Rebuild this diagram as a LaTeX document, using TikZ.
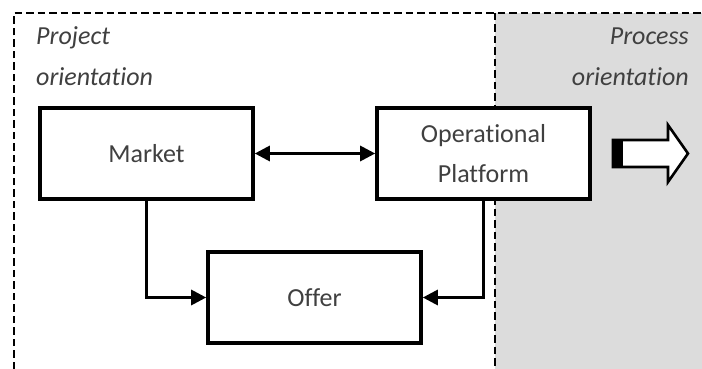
\documentclass[tikz,border=0pt]{standalone}
\usepackage{fontspec}
\setmainfont{Carlito}[Ligatures={NoCommon}]
\usetikzlibrary{arrows.meta}
\definecolor{txt}{HTML}{404040}
\definecolor{graybg}{HTML}{DCDCDC}
\tikzset{
  blk/.style={draw=black, line width=3.6pt, fill=white, minimum width=213pt, minimum height=91pt, inner sep=0pt, text=txt, font=\fontsize{26pt}{40pt}\selectfont, align=center},
  conn/.style={line width=3pt, -{Triangle[length=15pt,width=15pt]}},
  dashline/.style={line width=1.8pt, dash pattern=on 7.5pt off 4pt},
  lbl/.style={inner sep=0pt, text=txt, font=\fontsize{26pt}{40pt}\selectfont\itshape}
}
\begin{document}
\begin{tikzpicture}[x=1pt,y=-1pt]
\useasboundingbox (0,0) rectangle (702,369);
\fill[white] (0,0) rectangle (702,369);
\fill[graybg] (495,13) rectangle (702,369);
\coordinate (tl) at (14,13);
\coordinate (bl) at (14,369);
\coordinate (tr) at (702,13);
\coordinate (dt) at (495,13);
\coordinate (db) at (495,369);
\draw[dashline] (bl) -- (tl) -- (tr);
\draw[dashline] (dt) -- (db);
\node[lbl, anchor=base west] (p1) at (36,45) {Project};
\node[lbl, anchor=base west] (p2) at (36,86) {orientation};
\node[lbl, anchor=base east] (q1) at (689,45) {Process};
\node[lbl, anchor=base east] (q2) at (689,86) {orientation};
\node[blk] (market) at (146.5,153.5) {Market};
\node[blk] (oper) at (483.5,153.5) {Operational\\Platform};
\node[blk] (offer) at (314.5,297.5) {Offer};
\draw[line width=3pt, {Triangle[length=15pt,width=15pt]}-{Triangle[length=15pt,width=15pt]}] (market.east) -- (oper.west);
\draw[conn] (market.south) |- (offer.west);
\draw[conn] (oper.south) |- (offer.east);
% block arrow
\draw[line width=2.6pt, fill=white, line join=miter] (613,140) -- (668,140) -- (668,125) -- (688,153.5) -- (668,182) -- (668,167) -- (613,167) -- cycle;
\fill[black] (612,139) rectangle (623,168);
\end{tikzpicture}
\end{document}
